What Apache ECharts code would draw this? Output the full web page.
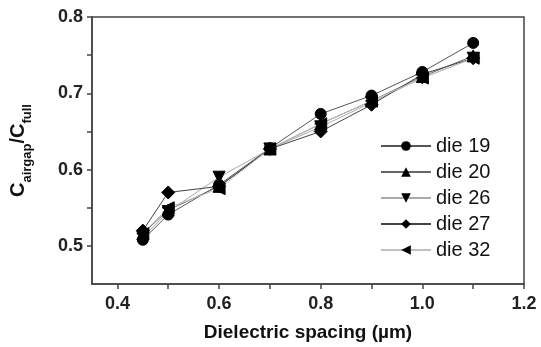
<!DOCTYPE html>
<html>
<head>
<meta charset="utf-8">
<script src="https://cdn.jsdelivr.net/npm/echarts@6/dist/echarts.min.js"></script>
<style>
  html, body { margin: 0; padding: 0; background: #fff; }
  #chart { width: 541px; height: 347px; }
</style>
</head>
<body>
<div id="chart"></div>
<script>
const spacing = [0.45, 0.5, 0.6, 0.7, 0.8, 0.9, 1.0, 1.1]

const die19 = [0.508, 0.541, 0.580, 0.628, 0.673, 0.697, 0.728, 0.766]
const die20 = [0.516, 0.547, 0.578, 0.627, 0.660, 0.690, 0.722, 0.749]
const die26 = [0.511, 0.545, 0.590, 0.627, 0.656, 0.688, 0.720, 0.746]
const die27 = [0.520, 0.570, 0.578, 0.627, 0.650, 0.685, 0.725, 0.746]
const die32 = [0.516, 0.550, 0.575, 0.627, 0.660, 0.690, 0.720, 0.746]

const xLabels = [0.4, 0.6, 0.8, 1.0, 1.2]
const xTicks = [0.4, 0.5, 0.6, 0.7, 0.8, 0.9, 1.0, 1.1, 1.2]
const yLabels = [0.5, 0.6, 0.7, 0.8]
const yTicks = [0.5, 0.55, 0.6, 0.65, 0.7, 0.75, 0.8]

const seriesDefs = [
  { name: 'die 19', data: die19, symbol: 'circle', size: 11, line: '#555' },
  { name: 'die 20', data: die20, symbol: 'triangle', size: 12, line: '#666' },
  { name: 'die 26', data: die26, symbol: 'path://M0,0 L10,0 L5,9 Z', size: 12, line: '#aaa' },
  { name: 'die 27', data: die27, symbol: 'diamond', size: 13, line: '#444' },
  { name: 'die 32', data: die32, symbol: 'path://M9,0 L9,10 L0,5 Z', size: 12, line: '#c0c0c0' },
]

const font = 'Liberation Sans, Arial, sans-serif'
const axisColor = '#444'
const labelFont = { color: '#222', fontSize: 18, fontWeight: 'bold', fontFamily: font }

const chart = echarts.init(document.getElementById('chart'), null, { renderer: 'canvas' })

chart.setOption({
  animation: false,
  backgroundColor: '#fff',
  grid: {
    left: 88, right: 17, top: 17, bottom: 63,
    show: true, borderColor: axisColor, borderWidth: 1.5,
  },
  legend: {
    orient: 'vertical',
    left: 375, top: 131,
    itemWidth: 50, itemHeight: 12, itemGap: 6,
    textStyle: { color: '#111', fontSize: 20, fontFamily: font },
    data: seriesDefs.map(s => s.name),
  },
  xAxis: {
    type: 'value',
    min: 0.35, max: 1.2,
    name: 'Dielectric spacing (µm)',
    nameLocation: 'middle',
    nameGap: 39,
    nameTextStyle: { ...labelFont, fontSize: 19, color: '#111' },
    axisLine: { show: true, lineStyle: { color: axisColor, width: 1.5 } },
    axisTick: { show: true, length: 5, customValues: xTicks, lineStyle: { color: axisColor, width: 1.5 } },
    axisLabel: { ...labelFont, margin: 11, customValues: xLabels, formatter: v => v.toFixed(1) },
    splitLine: { show: false },
  },
  yAxis: {
    type: 'value',
    min: 0.45, max: 0.8,
    name: '{c|C}{s|airgap}{c|/C}{s|full}',
    nameLocation: 'middle',
    nameGap: 58,
    nameRotate: 90,
    nameTextStyle: {
      rich: {
        c: { fontSize: 20, fontWeight: 'bold', color: '#111', fontFamily: font, lineHeight: 26, verticalAlign: 'top' },
        s: { fontSize: 13, fontWeight: 'bold', color: '#111', fontFamily: font, lineHeight: 26, verticalAlign: 'bottom', padding: [9, 0, 0, 0] },
      },
    },
    axisLine: { show: true, lineStyle: { color: axisColor, width: 1.5 } },
    axisTick: { show: true, length: 5, customValues: yTicks, lineStyle: { color: axisColor, width: 1.5 } },
    axisLabel: { ...labelFont, margin: 9, customValues: yLabels, formatter: v => v.toFixed(1) },
    splitLine: { show: false },
  },
  series: seriesDefs.map(s => ({
    name: s.name,
    type: 'line',
    data: spacing.map((x, i) => [x, s.data[i]]),
    symbol: s.symbol,
    symbolSize: s.size,
    showAllSymbol: true,
    lineStyle: { color: s.line, width: 1 },
    itemStyle: { color: '#000', borderColor: '#000' },
    emphasis: { disabled: true },
  })),
})
</script>
</body>
</html>
